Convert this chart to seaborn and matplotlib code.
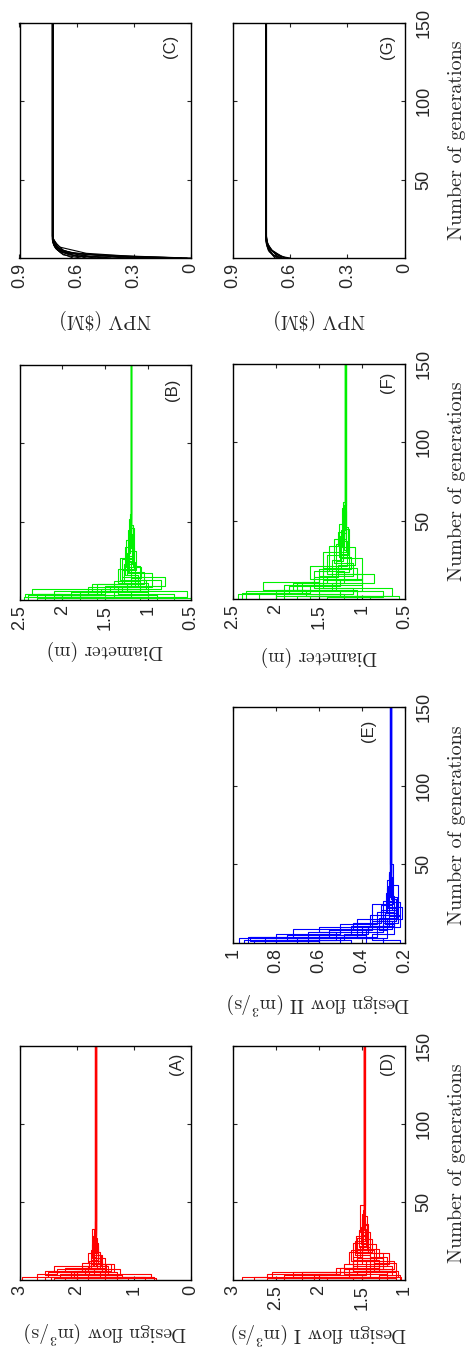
import numpy as np
import pandas as pd
import matplotlib
matplotlib.use("Agg")
import matplotlib.pyplot as plt
import seaborn as sns

# ---------------- data: (generation, value) breakpoints of each run ----------------
A_runs = [
    [(0, 2.95), (2, 2.5), (5, 1.9), (9, 1.72), (18, 1.68), (30, 1.665)],
    [(0, 0.65), (2, 1.5), (4, 1.85), (8, 1.6), (14, 1.7), (25, 1.675)],
    [(0, 2.4), (1, 1.2), (3, 1.5), (7, 1.78), (12, 1.63), (22, 1.66), (34, 1.67)],
    [(0, 2.0), (3, 2.55), (6, 1.4), (10, 1.55), (16, 1.71), (28, 1.668)],
    [(0, 0.8), (2, 1.3), (5, 2.2), (8, 1.75), (13, 1.62), (24, 1.672)],
    [(0, 2.7), (4, 2.35), (7, 1.65), (11, 1.8), (17, 1.64), (27, 1.665)],
    [(0, 1.1), (1, 2.3), (4, 1.45), (9, 1.7), (15, 1.66), (26, 1.675)],
    [(0, 2.2), (2, 1.6), (5, 1.35), (10, 1.75), (19, 1.69), (32, 1.67)],
    [(0, 1.5), (3, 2.0), (6, 1.55), (12, 1.72), (21, 1.665), (36, 1.668)],
    [(0, 2.55), (2, 0.7), (4, 1.7), (8, 1.5), (14, 1.73), (23, 1.68), (33, 1.672)],
    [(0, 1.8), (3, 1.25), (7, 1.9), (11, 1.6), (18, 1.69), (29, 1.67)],
    [(0, 0.62), (1, 2.1), (5, 1.8), (9, 1.58), (16, 1.7), (31, 1.674)],
    [(0, 2.45), (2, 2.05), (6, 1.48), (10, 1.62), (20, 1.685), (38, 1.67)],
    [(0, 1.3), (3, 1.78), (5, 2.4), (9, 1.66), (15, 1.73), (33, 1.666)],
]
D_runs = [
    [(0, 2.9), (2, 2.6), (4, 1.8), (8, 1.6), (15, 1.5), (30, 1.48), (45, 1.465)],
    [(0, 1.05), (3, 1.2), (6, 1.35), (12, 1.55), (20, 1.44), (35, 1.475)],
    [(0, 2.6), (1, 1.1), (5, 1.3), (10, 1.65), (18, 1.42), (28, 1.5), (40, 1.47)],
    [(0, 1.9), (2, 2.3), (5, 1.15), (9, 1.4), (16, 1.58), (25, 1.46), (38, 1.468)],
    [(0, 1.2), (4, 1.7), (7, 1.25), (14, 1.52), (22, 1.45), (33, 1.472)],
    [(0, 2.4), (3, 1.55), (6, 1.1), (11, 1.35), (19, 1.55), (27, 1.49), (42, 1.465)],
    [(0, 1.1), (1, 2.0), (4, 1.75), (8, 1.3), (13, 1.6), (24, 1.43), (36, 1.475)],
    [(0, 1.5), (2, 1.08), (6, 1.45), (12, 1.25), (17, 1.5), (29, 1.46), (44, 1.47)],
    [(0, 2.2), (5, 1.6), (9, 1.2), (15, 1.4), (21, 1.53), (32, 1.468)],
    [(0, 1.3), (3, 1.15), (7, 1.7), (10, 1.5), (18, 1.38), (26, 1.5), (39, 1.472)],
    [(0, 2.75), (2, 1.4), (6, 1.6), (13, 1.33), (23, 1.51), (34, 1.47)],
    [(0, 1.04), (2, 1.65), (8, 1.55), (14, 1.3), (20, 1.48), (37, 1.474)],
    [(0, 2.05), (3, 1.45), (7, 1.12), (12, 1.62), (19, 1.4), (31, 1.52), (48, 1.466)],
    [(0, 1.6), (1, 2.55), (5, 1.4), (10, 1.18), (17, 1.56), (28, 1.44), (41, 1.47)],
]
E_runs = [
    [(0, 0.97), (3, 0.8), (6, 0.5), (12, 0.33), (20, 0.28), (35, 0.262)],
    [(0, 0.95), (2, 0.6), (5, 0.4), (10, 0.3), (18, 0.25), (30, 0.268)],
    [(0, 0.7), (4, 0.55), (8, 0.35), (14, 0.24), (22, 0.28), (40, 0.265)],
    [(0, 0.45), (2, 0.75), (5, 0.45), (11, 0.27), (17, 0.22), (26, 0.27), (45, 0.263)],
    [(0, 0.3), (3, 0.42), (7, 0.3), (13, 0.23), (21, 0.26), (33, 0.267)],
    [(0, 0.6), (1, 0.92), (4, 0.38), (9, 0.28), (16, 0.31), (24, 0.26), (38, 0.265)],
    [(0, 0.22), (2, 0.35), (6, 0.25), (12, 0.29), (19, 0.24), (28, 0.264)],
    [(0, 0.85), (3, 0.65), (7, 0.42), (15, 0.21), (23, 0.275), (36, 0.266)],
    [(0, 0.5), (4, 0.33), (10, 0.22), (18, 0.3), (27, 0.26), (42, 0.265)],
    [(0, 0.9), (2, 0.48), (6, 0.37), (11, 0.25), (20, 0.285), (32, 0.263)],
    [(0, 0.38), (5, 0.5), (9, 0.26), (14, 0.35), (25, 0.255), (50, 0.267)],
    [(0, 0.65), (3, 0.28), (8, 0.32), (16, 0.235), (29, 0.27), (44, 0.265)],
    [(0, 0.93), (4, 0.72), (9, 0.44), (13, 0.31), (21, 0.23), (37, 0.266)],
    [(0, 0.8), (2, 0.52), (7, 0.6), (10, 0.36), (18, 0.27), (31, 0.264)],
]
B_runs = [
    [(0, 2.45), (2, 1.8), (5, 1.3), (9, 1.15), (16, 1.25), (30, 1.21), (50, 1.195)],
    [(0, 0.5), (1, 2.3), (4, 1.6), (10, 1.05), (18, 1.22), (35, 1.205)],
    [(0, 2.2), (3, 1.0), (7, 1.4), (12, 1.1), (22, 1.18), (40, 1.2)],
    [(0, 1.5), (2, 0.55), (6, 1.25), (11, 1.35), (20, 1.17), (33, 1.21), (55, 1.198)],
    [(0, 2.0), (4, 2.35), (7, 0.85), (13, 1.15), (24, 1.23), (45, 1.202)],
    [(0, 1.1), (2, 1.9), (5, 1.45), (9, 0.8), (15, 1.3), (26, 1.19), (42, 1.2)],
    [(0, 2.4), (3, 1.7), (8, 1.2), (14, 1.08), (21, 1.26), (38, 1.196)],
    [(0, 0.7), (4, 1.35), (8, 0.95), (17, 1.24), (28, 1.18), (48, 1.204)],
    [(0, 1.8), (2, 1.2), (6, 1.65), (10, 1.3), (19, 1.14), (31, 1.22), (52, 1.2)],
    [(0, 2.3), (1, 1.4), (5, 1.0), (11, 1.28), (23, 1.19), (36, 1.198)],
    [(0, 0.9), (3, 2.1), (6, 1.1), (12, 1.2), (25, 1.22), (44, 1.202)],
    [(0, 1.6), (2, 2.44), (4, 1.5), (9, 1.12), (16, 1.27), (34, 1.2)],
    [(0, 2.1), (3, 1.55), (7, 1.02), (13, 1.33), (27, 1.16), (46, 1.2)],
]
F_runs = [
    [(0, 2.44), (3, 1.85), (8, 1.5), (15, 1.35), (25, 1.25), (40, 1.2), (60, 1.188)],
    [(0, 0.56), (2, 2.0), (6, 1.3), (12, 1.05), (20, 1.3), (35, 1.21), (55, 1.192)],
    [(0, 2.2), (4, 1.6), (9, 1.0), (16, 1.4), (28, 1.15), (45, 1.19)],
    [(0, 1.4), (1, 0.75), (5, 1.75), (10, 1.2), (18, 1.45), (30, 1.18), (50, 1.186)],
    [(0, 1.9), (3, 1.1), (7, 1.55), (14, 1.28), (22, 1.08), (33, 1.23), (58, 1.194)],
    [(0, 0.9), (2, 1.65), (6, 2.15), (11, 1.5), (19, 1.12), (27, 1.26), (48, 1.19)],
    [(0, 2.35), (5, 1.35), (10, 0.85), (16, 1.3), (24, 1.22), (42, 1.188)],
    [(0, 1.2), (3, 1.5), (8, 1.25), (13, 1.6), (21, 1.17), (37, 1.2), (52, 1.192)],
    [(0, 1.75), (2, 0.65), (7, 1.45), (12, 1.0), (26, 1.24), (44, 1.19)],
    [(0, 2.0), (4, 1.9), (9, 1.3), (17, 1.15), (31, 1.21), (47, 1.186)],
    [(0, 1.05), (6, 1.8), (10, 1.4), (15, 1.1), (23, 1.32), (38, 1.18), (56, 1.194)],
    [(0, 1.6), (2, 1.25), (5, 1.0), (13, 1.45), (20, 1.24), (29, 1.16), (46, 1.19)],
    [(0, 2.4), (4, 1.7), (11, 1.55), (18, 1.38), (34, 1.27), (43, 1.22), (62, 1.19)],
]
C_runs = [
    [(0, 0.0), (1, 0.38), (3, 0.62), (6, 0.70), (10, 0.72), (15, 0.724)],
    [(0, 0.02), (2, 0.5), (4, 0.68), (9, 0.715), (14, 0.728)],
    [(0, 0.35), (3, 0.6), (5, 0.69), (8, 0.71), (12, 0.726)],
    [(0, 0.45), (1, 0.55), (4, 0.66), (7, 0.70), (13, 0.725)],
    [(0, 0.5), (2, 0.64), (5, 0.7), (11, 0.727)],
    [(0, 0.58), (2, 0.67), (6, 0.71), (10, 0.726)],
    [(0, 0.3), (2, 0.48), (3, 0.65), (6, 0.69), (9, 0.72), (16, 0.724)],
    [(0, 0.62), (3, 0.68), (7, 0.715), (12, 0.728)],
    [(0, 0.55), (4, 0.69), (8, 0.72), (11, 0.726)],
    [(0, 0.1), (1, 0.6), (5, 0.7), (10, 0.72), (14, 0.725)],
    [(0, 0.42), (2, 0.59), (5, 0.67), (9, 0.705), (13, 0.727)],
    [(0, 0.05), (1, 0.3), (3, 0.55), (7, 0.69), (12, 0.726)],
]
G_runs = [
    [(0, 0.62), (2, 0.66), (5, 0.70), (9, 0.72), (14, 0.724)],
    [(0, 0.64), (3, 0.68), (6, 0.71), (11, 0.727)],
    [(0, 0.66), (2, 0.69), (5, 0.715), (10, 0.726)],
    [(0, 0.6), (1, 0.65), (4, 0.69), (8, 0.715), (13, 0.725)],
    [(0, 0.68), (3, 0.7), (7, 0.72), (12, 0.728)],
    [(0, 0.655), (2, 0.675), (6, 0.705), (10, 0.72), (15, 0.726)],
    [(0, 0.67), (4, 0.71), (9, 0.725)],
    [(0, 0.63), (3, 0.67), (5, 0.695), (9, 0.718), (14, 0.727)],
    [(0, 0.645), (2, 0.69), (6, 0.712), (11, 0.726)],
]

LAST_GEN = 150
gen_ticks = [50, 100, 150]
ticks_flow = [3, 2, 1, 0]
ticks_flow1 = [3, 2.5, 2, 1.5, 1]
ticks_flow2 = [1, 0.8, 0.6, 0.4, 0.2]
ticks_diam = [2.5, 2, 1.5, 1, 0.5]
ticks_npv = [0.9, 0.6, 0.3, 0]

lab_flow = ["3", "2", "1", "0"]
lab_flow1 = ["3", "2.5", "2", "1.5", "1"]
lab_flow2 = ["1", "0.8", "0.6", "0.4", "0.2"]
lab_diam = ["2.5", "2", "1.5", "1", "0.5"]
lab_npv = ["0.9", "0.6", "0.3", "0"]


def runs_df(runs):
    rows = []
    for r, pts in enumerate(runs):
        for g, v in pts:
            rows.append((r, g, v))
        rows.append((r, LAST_GEN, pts[-1][1]))
    return pd.DataFrame(rows, columns=["run", "gen", "val"])


sns.set_style("white")
plt.rcParams["font.family"] = ["Liberation Sans", "DejaVu Sans"]
plt.rcParams["mathtext.fontset"] = "cm"
plt.rcParams["axes.linewidth"] = 1.0

W, H = 467, 1349
fig = plt.figure(figsize=(W / 100, H / 100), dpi=100)

# name, runs, color, rect px, lim, ticks, labels, label, right col, steps, label pad, letter pos
panels = [
    ("C", C_runs, "black", (19.5, 23, 171.5, 235), (0.9, 0), ticks_npv, lab_npv,
     "NPV (\\$M)", False, False, 15, (0.88, 0.90)),
    ("G", G_runs, "black", (233, 23, 171.5, 235), (0.9, 0), ticks_npv, lab_npv,
     "NPV (\\$M)", True, False, 15, (0.90, 0.90)),
    ("B", B_runs, "#00f000", (19.5, 365, 171.5, 235), (2.5, 0.5), ticks_diam, lab_diam,
     "Diameter (m)", False, True, 7, (0.89, 0.895)),
    ("F", F_runs, "#00f000", (233, 364, 171.5, 235), (2.5, 0.5), ticks_diam, lab_diam,
     "Diameter (m)", True, True, 12, (0.90, 0.92)),
    ("E", E_runs, "#0000ff", (233, 707, 171.5, 236), (1, 0.2), ticks_flow2, lab_flow2,
     "Design flow II (m$^3$/s)", True, True, 13, (0.79, 0.90)),
    ("A", A_runs, "#ff0000", (19.5, 1046, 171.5, 234), (3, 0), ticks_flow, lab_flow,
     "Design flow (m$^3$/s)", False, True, 18, (0.915, 0.925)),
    ("D", D_runs, "#ff0000", (233, 1046, 171.5, 234), (3, 1), ticks_flow1, lab_flow1,
     "Design flow I (m$^3$/s)", True, True, 8, (0.90, 0.925)),
]

serif = ["cmr10", "DejaVu Serif"]

for (name, runs, color, (x0, y0, w, h), lim, ticks, labs, label, rightcol, steps,
     lpad, (tx, ty)) in panels:
    ax = fig.add_axes([x0 / W, 1 - (y0 + h) / H, w / W, h / H])
    df = runs_df(runs)
    kw = dict(drawstyle="steps-pre") if steps else {}
    sns.lineplot(data=df, x="val", y="gen", units="run", estimator=None, orient="y",
                 color=color, lw=0.8, ax=ax, legend=False, **kw)
    ax.set_xlim(*lim)
    ax.set_ylim(0, LAST_GEN)
    ax.set_xticks(ticks)
    ax.set_xticklabels(labs, rotation=90, fontsize=13)
    ax.set_yticks(gen_ticks)
    ax.tick_params(axis="x", direction="in", top=True, bottom=True, length=3, width=0.8, pad=3.5)
    ax.tick_params(axis="y", direction="in", left=True, right=True, length=3, width=0.8,
                   labelleft=False, labelright=rightcol, pad=8)
    for sp in ax.spines.values():
        sp.set_color("black")
        sp.set_linewidth(1.0)
    if rightcol:
        ax.set_yticklabels([str(t) for t in gen_ticks], rotation=90, fontsize=13, va="center")
        ax.yaxis.set_label_position("right")
        ax.set_ylabel("Number of generations", rotation=90, fontsize=14.5, family=serif,
                      labelpad=11)
    else:
        ax.set_ylabel("")
    ax.set_xlabel(label, rotation=180, fontsize=14, family=serif, labelpad=lpad)
    ax.text(tx, ty, f"({name})", transform=ax.transAxes, rotation=90,
            ha="center", va="center", fontsize=12)

fig.savefig("out.png", dpi=100)
